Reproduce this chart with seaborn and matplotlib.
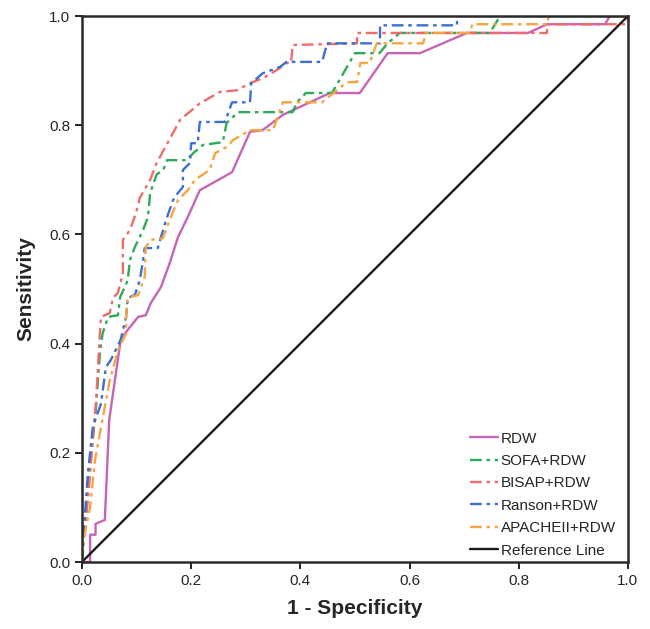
import pandas as pd
import matplotlib
matplotlib.use("Agg")
import matplotlib.pyplot as plt
import seaborn as sns

# ROC curves
rdw_x = [0, 0.015, 0.015, 0.025, 0.025, 0.042, 0.05, 0.071, 0.079, 0.103, 0.117, 0.126, 0.145,
         0.161, 0.176, 0.194, 0.216, 0.275, 0.308, 0.331, 0.368, 0.454, 0.509, 0.56, 0.619,
         0.705, 0.817, 0.852, 0.958, 0.967, 1.0]
rdw_y = [0, 0, 0.05, 0.05, 0.07, 0.077, 0.26, 0.407, 0.419, 0.449, 0.452, 0.474, 0.504,
         0.548, 0.595, 0.632, 0.681, 0.714, 0.788, 0.791, 0.819, 0.859, 0.859, 0.932, 0.932,
         0.969, 0.969, 0.985, 0.985, 1.0, 1.0]

sofa_x = [0, 0.003, 0.007, 0.016, 0.026, 0.033, 0.038, 0.048, 0.066, 0.07, 0.084, 0.088, 0.097,
          0.112, 0.121, 0.125, 0.137, 0.149, 0.156, 0.192, 0.204, 0.222, 0.258, 0.265, 0.286,
          0.386, 0.394, 0.41, 0.458, 0.5, 0.545, 0.56, 0.582, 0.747, 0.766, 1.0]
sofa_y = [0, 0.04, 0.09, 0.187, 0.284, 0.383, 0.419, 0.449, 0.452, 0.485, 0.516, 0.553, 0.577,
          0.608, 0.632, 0.676, 0.71, 0.718, 0.736, 0.736, 0.749, 0.764, 0.769, 0.804, 0.824,
          0.824, 0.842, 0.859, 0.859, 0.932, 0.932, 0.95, 0.969, 0.969, 1.0, 1.0]

bisap_x = [0, 0.005, 0.011, 0.02, 0.026, 0.033, 0.035, 0.051, 0.057, 0.066, 0.075, 0.075, 0.088,
           0.099, 0.106, 0.125, 0.137, 0.18, 0.216, 0.253, 0.284, 0.308, 0.331, 0.357, 0.375,
           0.383, 0.386, 0.504, 0.504, 0.852, 0.852, 1.0, 1.0]
bisap_y = [0, 0.053, 0.114, 0.223, 0.297, 0.419, 0.449, 0.456, 0.484, 0.493, 0.529, 0.59, 0.608,
           0.639, 0.667, 0.70, 0.731, 0.81, 0.84, 0.861, 0.864, 0.877, 0.886, 0.901, 0.914,
           0.914, 0.947, 0.95, 0.969, 0.969, 0.985, 0.985, 1.0]

ranson_x = [0, 0.003, 0.011, 0.02, 0.035, 0.044, 0.053, 0.071, 0.081, 0.084, 0.097, 0.106, 0.112,
            0.115, 0.139, 0.154, 0.167, 0.176, 0.185, 0.185, 0.198, 0.20, 0.212, 0.216, 0.262,
            0.275, 0.308, 0.31, 0.331, 0.363, 0.375, 0.44, 0.449, 0.546, 0.546, 0.687, 0.687, 1.0]
ranson_y = [0, 0.05, 0.163, 0.247, 0.29, 0.357, 0.37, 0.407, 0.449, 0.484, 0.489, 0.516, 0.553,
            0.575, 0.575, 0.626, 0.663, 0.676, 0.687, 0.718, 0.731, 0.767, 0.767, 0.806, 0.806,
            0.842, 0.842, 0.877, 0.895, 0.907, 0.916, 0.916, 0.95, 0.95, 0.983, 0.983, 1.0, 1.0]

apache_x = [0, 0.005, 0.015, 0.024, 0.033, 0.042, 0.051, 0.066, 0.081, 0.081, 0.084, 0.103, 0.115,
            0.117, 0.126, 0.148, 0.163, 0.176, 0.194, 0.207, 0.234, 0.244, 0.265, 0.277, 0.308,
            0.35, 0.368, 0.44, 0.467, 0.485, 0.504, 0.51, 0.527, 0.54, 0.625, 0.63, 0.71, 0.715,
            0.852, 0.855, 1.0]
apache_y = [0, 0.05, 0.1, 0.187, 0.236, 0.284, 0.333, 0.388, 0.419, 0.452, 0.484, 0.489, 0.522,
            0.577, 0.59, 0.593, 0.632, 0.663, 0.681, 0.70, 0.718, 0.749, 0.76, 0.773, 0.791,
            0.791, 0.842, 0.842, 0.864, 0.879, 0.879, 0.914, 0.914, 0.95, 0.95, 0.969, 0.969, 0.985,
            0.985, 1.0, 1.0]

ref_x = [0, 1]
ref_y = [0, 1]

labels = ["RDW", "SOFA+RDW", "BISAP+RDW", "Ranson+RDW", "APACHEII+RDW", "Reference Line"]
series = [(rdw_x, rdw_y), (sofa_x, sofa_y), (bisap_x, bisap_y),
          (ranson_x, ranson_y), (apache_x, apache_y), (ref_x, ref_y)]

frames = []
for lab, (xs, ys) in zip(labels, series):
    frames.append(pd.DataFrame({"fpr": xs, "tpr": ys, "curve": lab}))
df = pd.concat(frames, ignore_index=True)

palette = {"RDW": "#c665b5", "SOFA+RDW": "#2eaa5a", "BISAP+RDW": "#f26b6b",
           "Ranson+RDW": "#3b6fd4", "APACHEII+RDW": "#f7a541", "Reference Line": "#1a1a1a"}
dashdot = (5, 2, 1.5, 2)
dashes = {"RDW": "", "SOFA+RDW": dashdot, "BISAP+RDW": dashdot, "Ranson+RDW": dashdot,
          "APACHEII+RDW": dashdot, "Reference Line": ""}

sns.set_style("ticks")
plt.rcParams["font.family"] = ["Liberation Sans", "DejaVu Sans"]

fig = plt.figure(figsize=(6.5, 6.29), dpi=100)
ax = fig.add_axes([0.126, 0.1065, 0.84, 0.868])

sns.lineplot(data=df, x="fpr", y="tpr", hue="curve", style="curve", palette=palette,
             dashes=dashes, sort=False, estimator=None, linewidth=1.7, ax=ax)

ax.set_xlim(0, 1)
ax.set_ylim(0, 1)
ax.set_xticks([0, 0.2, 0.4, 0.6, 0.8, 1.0])
ax.set_yticks([0, 0.2, 0.4, 0.6, 0.8, 1.0])
ax.set_xticklabels(["0.0", "0.2", "0.4", "0.6", "0.8", "1.0"])
ax.set_yticklabels(["0.0", "0.2", "0.4", "0.6", "0.8", "1.0"])
ax.tick_params(direction="out", length=5, width=1.4, labelsize=11, color="#222222")
for sp in ax.spines.values():
    sp.set_linewidth(1.8)
    sp.set_color("#2a2a2a")

ax.set_xlabel("1 - Specificity", fontsize=15, fontweight="bold", labelpad=8)
ax.set_ylabel("Sensitivity", fontsize=15, fontweight="bold", labelpad=10)

leg = ax.legend(loc="upper left", bbox_to_anchor=(0.70, 0.25), frameon=False, fontsize=11,
                handlelength=1.8, labelspacing=0.55, handletextpad=0.2, borderaxespad=0)

fig.savefig("out.png", dpi=100)
